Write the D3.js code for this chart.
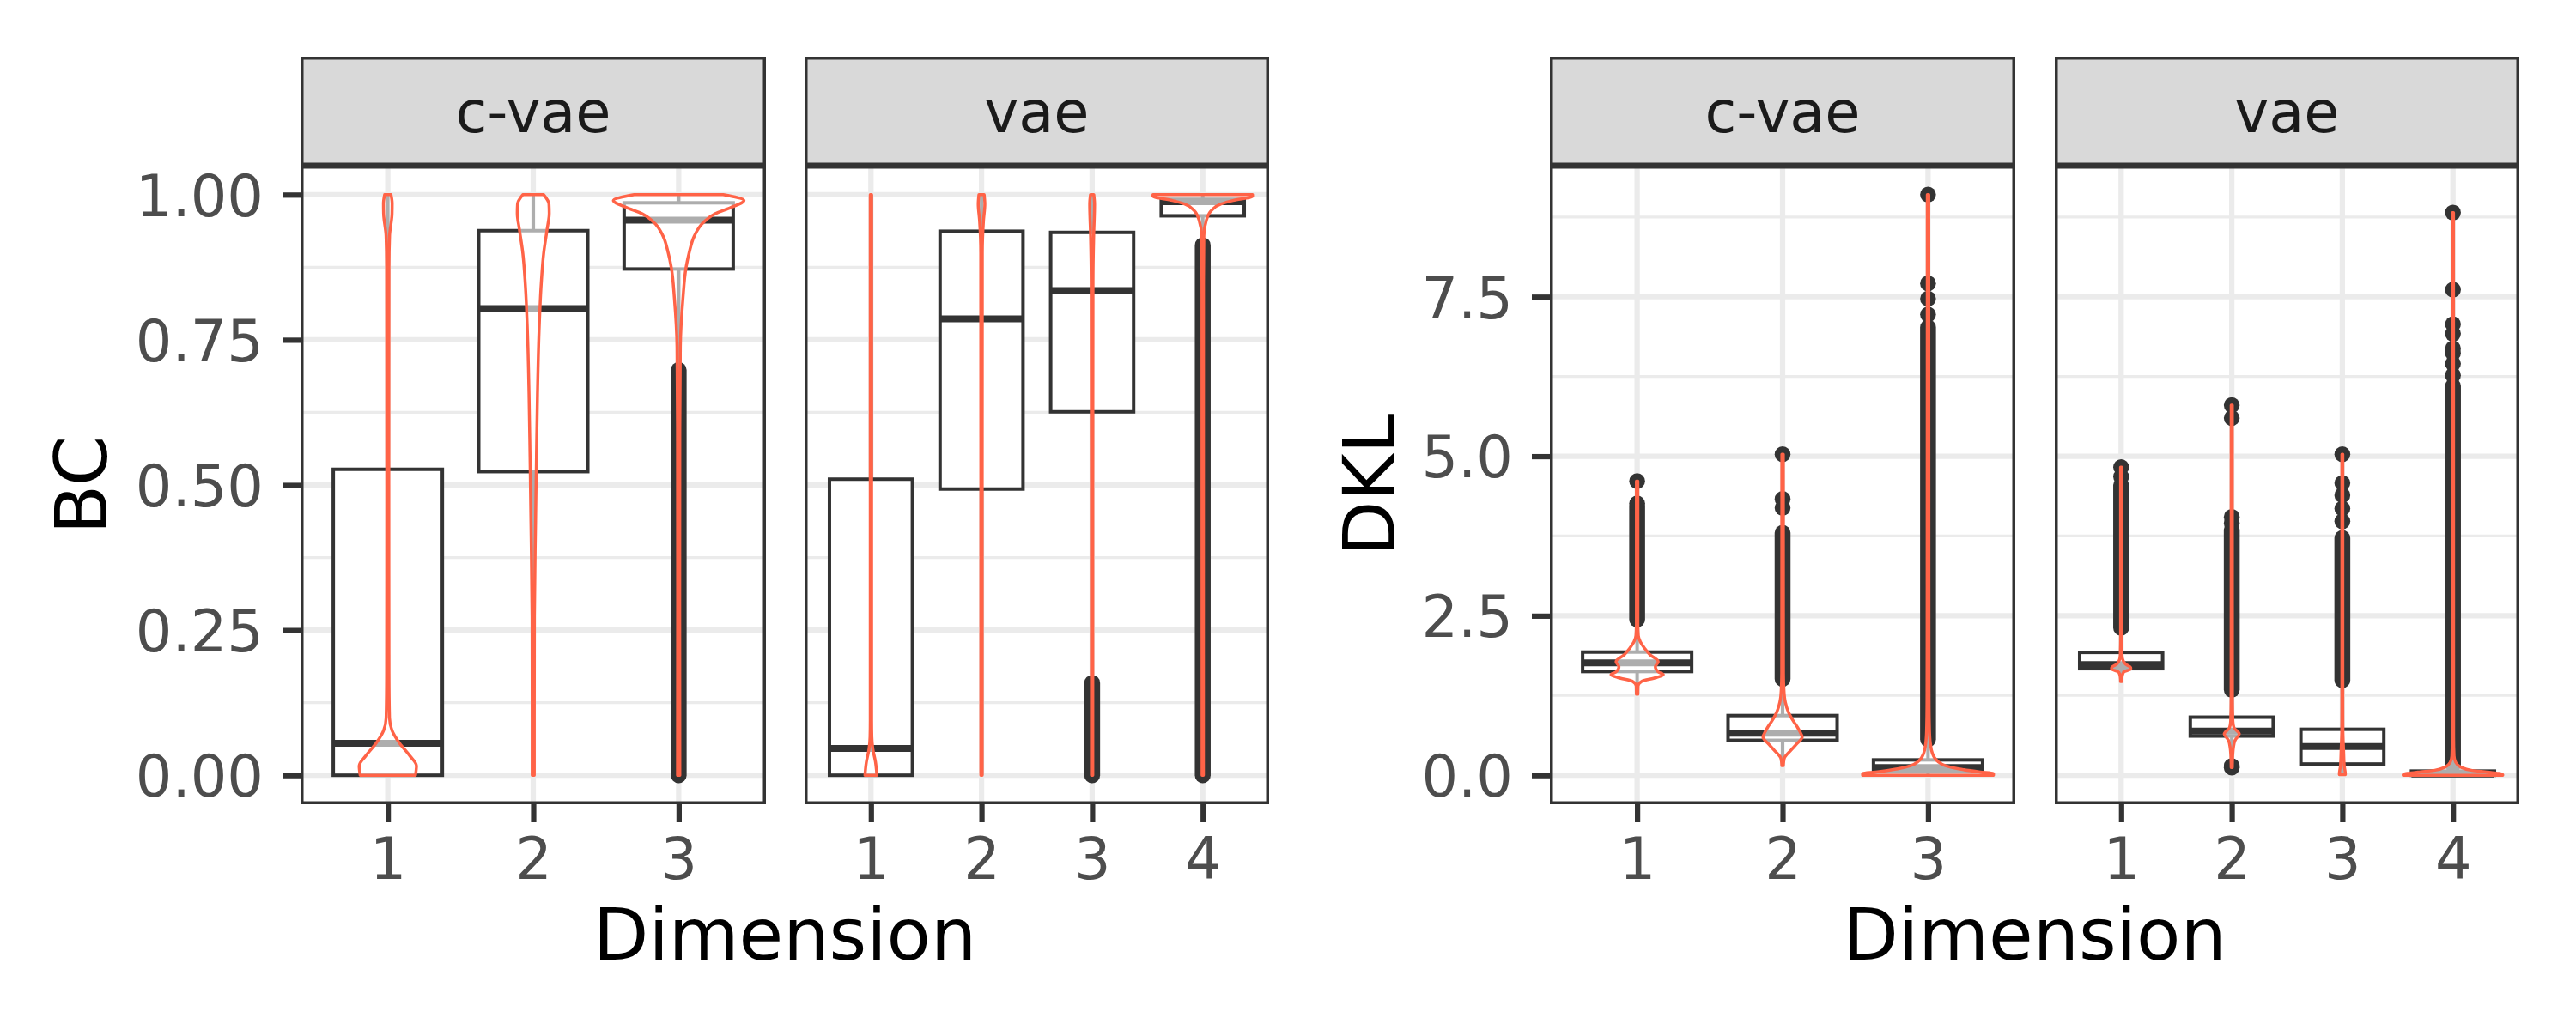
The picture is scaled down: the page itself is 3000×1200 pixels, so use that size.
<!DOCTYPE html>
<html><head><meta charset="utf-8">
<script src="https://cdn.jsdelivr.net/npm/d3@7"></script>
<style>body{margin:0;background:#fff} svg{display:block}</style>
</head><body>
<svg id="c" width="3000" height="1200"></svg>
<script>
// ---------------- DATA ----------------
const models = ["c-vae", "vae"];
const dimsCvae = ["1", "2", "3"];
const dimsVae = ["1", "2", "3", "4"];
const xTitle = "Dimension";

const bcTicks = [0, 0.25, 0.5, 0.75, 1.0];
const bcTickLabels = ["0.00", "0.25", "0.50", "0.75", "1.00"];
const bcMinor = [0.125, 0.375, 0.625, 0.875];
const dklTicks = [0, 2.5, 5, 7.5];
const dklTickLabels = ["0.0", "2.5", "5.0", "7.5"];
const dklMinor = [1.25, 3.75, 6.25, 8.75];

// box stats per dimension: [lower whisker, Q1, median, Q3, upper whisker]
const bcCvaeBox = [
  [0, 0, 0.055, 0.527, 1.0],
  [0, 0.523, 0.804, 0.938, 1.0],
  [0.705, 0.872, 0.956, 0.986, 1.0]
];
const bcVaeBox = [
  [0, 0, 0.046, 0.510, 1.0],
  [0, 0.493, 0.786, 0.937, 1.0],
  [0.165, 0.626, 0.835, 0.935, 1.0],
  [0.925, 0.9636, 0.988, 0.992, 1.0]
];
const dklCvaeBox = [
  [1.27, 1.626, 1.76, 1.93, 2.42],
  [0.149, 0.547, 0.657, 0.935, 1.50],
  [0.0, 0.05, 0.12, 0.24, 0.53]
];
const dklVaeBox = [
  [1.47, 1.67, 1.735, 1.925, 2.30],
  [0.17, 0.614, 0.692, 0.91, 1.33],
  [0.01, 0.175, 0.449, 0.72, 1.47],
  [0.0, 0.0, 0.02, 0.065, 0.15]
];

// dense outlier stretches [from, to] (overlapping points) and single outliers
const bcCvaeOutlierRuns = [[], [], [[0, 0.698]]];
const bcCvaeOutlierPts = [[], [], []];
const bcVaeOutlierRuns = [[], [], [[0, 0.159]], [[0, 0.913]]];
const bcVaeOutlierPts = [[], [], [], []];
const dklCvaeOutlierRuns = [[[2.44, 4.22]], [[1.51, 3.8]], [[0.56, 7.02]]];
const dklCvaeOutlierPts = [[4.26, 4.61], [4.19, 4.33, 5.03], [7.22, 7.47, 7.71, 9.1]];
const dklVaeOutlierRuns = [[[2.31, 4.55]], [[1.34, 3.85]], [[1.49, 3.72]], [[0.16, 6.1]]];
const dklVaeOutlierPts = [[4.68, 4.83], [0.12, 0.145, 3.95, 4.05, 5.60, 5.80],
  [3.98, 4.18, 4.39, 4.58, 5.03], [6.27, 6.45, 6.62, 6.69, 6.92, 7.07, 7.61, 8.82]];

// violin profiles: [value, half width in category units]
const bcCvaeViolin = [
  [[0, 0.19], [0.016, 0.197], [0.033, 0.153], [0.055, 0.081], [0.077, 0.029], [0.099, 0.0115], [0.175, 0.008], [0.5, 0.007], [0.875, 0.008], [0.929, 0.012], [0.967, 0.029], [0.985, 0.03], [1.0, 0.022]],
  [[0, 0.007], [0.1, 0.007], [0.274, 0.008], [0.438, 0.016], [0.547, 0.022], [0.656, 0.029], [0.765, 0.04], [0.847, 0.055], [0.9, 0.072], [0.94, 0.095], [0.968, 0.11], [0.984, 0.108], [1.0, 0.072]],
  [[0, 0.008], [0.3, 0.007], [0.6, 0.008], [0.738, 0.0115], [0.82, 0.029], [0.875, 0.051], [0.9, 0.072], [0.929, 0.108], [0.951, 0.165], [0.967, 0.25], [0.978, 0.36], [0.99, 0.449], [1.0, 0.306]]
];
const bcVaeViolin = [
  [[0, 0.054], [0.023, 0.041], [0.045, 0.0175], [0.066, 0.008], [0.094, 0.006], [0.5, 0.006], [0.9, 0.006], [1.0, 0.006]],
  [[0, 0.006], [0.5, 0.006], [0.9, 0.007], [0.956, 0.018], [0.984, 0.03], [1.0, 0.024]],
  [[0, 0.006], [0.5, 0.006], [0.85, 0.008], [0.929, 0.014], [0.984, 0.022], [1.0, 0.015]],
  [[0, 0.006], [0.85, 0.007], [0.929, 0.01], [0.956, 0.033], [0.973, 0.08], [0.984, 0.165], [0.99, 0.274], [0.997, 0.45], [1.0, 0.45]]
];
const dklCvaeViolin = [
  [[1.269, 0.005], [1.40, 0.006], [1.47, 0.03], [1.53, 0.13], [1.575, 0.18], [1.62, 0.145], [1.70, 0.125], [1.78, 0.145], [1.89, 0.088], [1.99, 0.051], [2.09, 0.022], [2.19, 0.008], [2.35, 0.005], [4.61, 0.005]],
  [[0.149, 0.005], [0.22, 0.008], [0.274, 0.013], [0.398, 0.06], [0.497, 0.10], [0.6, 0.135], [0.647, 0.127], [0.746, 0.104], [0.845, 0.075], [0.995, 0.039], [1.144, 0.019], [1.343, 0.009], [1.6, 0.006], [5.03, 0.005]],
  [[0, 0.45], [0.025, 0.45], [0.05, 0.36], [0.10, 0.21], [0.149, 0.12], [0.22, 0.066], [0.35, 0.029], [0.5, 0.016], [0.7, 0.01], [1.2, 0.007], [3, 0.006], [9.1, 0.005]]
];
const dklVaeViolin = [
  [[1.468, 0.005], [1.542, 0.008], [1.617, 0.022], [1.667, 0.087], [1.69, 0.085], [1.741, 0.039], [1.815, 0.014], [1.89, 0.008], [2.2, 0.005], [4.83, 0.005]],
  [[0.12, 0.005], [0.3, 0.008], [0.449, 0.016], [0.547, 0.03], [0.647, 0.068], [0.746, 0.02], [0.845, 0.01], [1.2, 0.006], [5.8, 0.005]],
  [[0.01, 0.027], [0.025, 0.027], [0.15, 0.017], [0.4, 0.011], [0.7, 0.005], [1.09, 0.004], [5.03, 0.004]],
  [[0, 0.45], [0.01, 0.45], [0.05, 0.317], [0.075, 0.173], [0.126, 0.072], [0.2, 0.025], [0.3, 0.01], [0.6, 0.006], [8.82, 0.005]]
];

// ---------------- DRAWING ----------------
const FONT = "'DejaVu Sans', 'Liberation Sans', sans-serif";
const TOP = 193, BOTTOM = 937, STRIP_TOP = 66;
const GRID = "#ebebeb", DARK = "#333333", VIOLIN = "#ff6347";
const AXIS_FS = 67, TITLE_FS = 84;

const svg = d3.select("#c");
svg.append("rect").attr("width", 3000).attr("height", 1200).attr("fill", "#fff");
const defs = svg.append("defs");
let clipId = 0;

function drawChart(cfg) {
  const vals = [];
  cfg.panels.forEach(p => {
    p.box.forEach(b => vals.push(b[0], b[4]));
    p.runs.forEach(rs => rs.forEach(r => vals.push(r[0], r[1])));
    p.pts.forEach(ps => ps.forEach(v => vals.push(v)));
  });
  const ext = d3.extent(vals);
  const pad = (ext[1] - ext[0]) * 0.05;
  const y = d3.scaleLinear().domain([ext[0] - pad, ext[1] + pad]).range([BOTTOM, TOP]);

  cfg.panels.forEach((p, pi) => {
    const x = d3.scalePoint().domain(p.dims).range([p.x0, p.x1]).padding(0.6);
    const step = x.step();
    const id = "clip" + (clipId++);
    defs.append("clipPath").attr("id", id).append("rect")
      .attr("x", p.x0).attr("y", TOP).attr("width", p.x1 - p.x0).attr("height", BOTTOM - TOP);
    const g = svg.append("g").attr("clip-path", `url(#${id})`);
    g.append("rect").attr("x", p.x0).attr("y", TOP).attr("width", p.x1 - p.x0).attr("height", BOTTOM - TOP).attr("fill", "#fff");

    // grid
    g.selectAll(".minor").data(cfg.minor).join("line")
      .attr("x1", p.x0).attr("x2", p.x1).attr("y1", d => y(d)).attr("y2", d => y(d))
      .attr("stroke", GRID).attr("stroke-width", 3.2);
    g.selectAll(".major").data(cfg.ticks).join("line")
      .attr("x1", p.x0).attr("x2", p.x1).attr("y1", d => y(d)).attr("y2", d => y(d))
      .attr("stroke", GRID).attr("stroke-width", 6.2);
    g.selectAll(".vmajor").data(p.dims).join("line")
      .attr("x1", d => x(d)).attr("x2", d => x(d)).attr("y1", TOP).attr("y2", BOTTOM)
      .attr("stroke", GRID).attr("stroke-width", 6.2);

    // boxplots
    const hb = 0.375 * step;
    p.dims.forEach((d, i) => {
      const cx = x(d), b = p.box[i];
      const bg = g.append("g");
      bg.append("line").attr("x1", cx).attr("x2", cx).attr("y1", y(b[0])).attr("y2", y(b[1]))
        .attr("stroke", DARK).attr("stroke-width", 4);
      bg.append("line").attr("x1", cx).attr("x2", cx).attr("y1", y(b[3])).attr("y2", y(b[4]))
        .attr("stroke", DARK).attr("stroke-width", 4);
      bg.append("rect").attr("x", cx - hb).attr("width", 2 * hb)
        .attr("y", y(b[3])).attr("height", Math.max(0.01, y(b[1]) - y(b[3])))
        .attr("fill", "#fff").attr("stroke", DARK).attr("stroke-width", 4);
      bg.append("line").attr("x1", cx - hb).attr("x2", cx + hb).attr("y1", y(b[2])).attr("y2", y(b[2]))
        .attr("stroke", DARK).attr("stroke-width", 8);
      bg.selectAll(".run").data(p.runs[i]).join("line")
        .attr("x1", cx).attr("x2", cx).attr("y1", r => y(r[0])).attr("y2", r => y(r[1]))
        .attr("stroke", DARK).attr("stroke-width", 18.5).attr("stroke-linecap", "round");
      bg.selectAll(".pt").data(p.pts[i]).join("circle")
        .attr("cx", cx).attr("cy", v => y(v)).attr("r", 9.25).attr("fill", DARK);
    });

    // violins
    p.dims.forEach((d, i) => {
      const cx = x(d);
      const area = d3.area().curve(d3.curveMonotoneY)
        .y(q => y(q[0])).x0(q => cx - q[1] * step).x1(q => cx + q[1] * step);
      g.append("path").attr("d", area(p.violin[i]))
        .attr("fill", "#fff").attr("fill-opacity", 0.6)
        .attr("stroke", VIOLIN).attr("stroke-width", 3.5).attr("stroke-linejoin", "round");
    });

    // panel border (inner half visible, as clipped)
    svg.append("rect").attr("x", p.x0 + 1.75).attr("y", TOP + 1.75)
      .attr("width", p.x1 - p.x0 - 3.5).attr("height", BOTTOM - TOP - 3.5)
      .attr("fill", "none").attr("stroke", DARK).attr("stroke-width", 3.5);

    // strip
    svg.append("rect").attr("x", p.x0 + 1.75).attr("y", STRIP_TOP + 1.75)
      .attr("width", p.x1 - p.x0 - 3.5).attr("height", TOP - STRIP_TOP - 3.5)
      .attr("fill", "#d9d9d9").attr("stroke", DARK).attr("stroke-width", 3.5);
    svg.append("text").attr("x", (p.x0 + p.x1) / 2).attr("y", 153.8)
      .attr("text-anchor", "middle").attr("font-family", FONT).attr("font-size", AXIS_FS)
      .attr("fill", "#1a1a1a").text(p.model);

    // x axis
    const xa = svg.append("g").attr("transform", `translate(0,${BOTTOM})`)
      .call(d3.axisBottom(x).tickSize(21).tickPadding(18.5));
    xa.select(".domain").remove();
    xa.attr("font-family", FONT).attr("font-size", AXIS_FS);
    xa.selectAll("line").attr("stroke", DARK).attr("stroke-width", 6.2);
    xa.selectAll("text").attr("fill", "#4d4d4d");

    // y axis on first panel
    if (pi === 0) {
      const ya = svg.append("g").attr("transform", `translate(${p.x0},0)`)
        .call(d3.axisLeft(y).tickValues(cfg.ticks).tickFormat((v, k) => cfg.tickLabels[k]).tickSize(21).tickPadding(22));
      ya.select(".domain").remove();
      ya.attr("font-family", FONT).attr("font-size", AXIS_FS);
      ya.selectAll("line").attr("stroke", DARK).attr("stroke-width", 6.2);
      ya.selectAll("text").attr("fill", "#4d4d4d").attr("dy", "0.364em");
    }
  });

  const first = cfg.panels[0], last = cfg.panels[cfg.panels.length - 1];
  svg.append("text").attr("x", (first.x0 + last.x1) / 2).attr("y", 1118)
    .attr("text-anchor", "middle").attr("font-family", FONT).attr("font-size", TITLE_FS)
    .attr("fill", "#000").text(xTitle);
  const cy = (TOP + BOTTOM) / 2;
  svg.append("text").attr("transform", `translate(${cfg.yTitleX},${cy}) rotate(-90)`)
    .attr("text-anchor", "middle").attr("font-family", FONT).attr("font-size", TITLE_FS)
    .attr("fill", "#000").text(cfg.metric);
}

drawChart({
  metric: "BC", ticks: bcTicks, tickLabels: bcTickLabels, minor: bcMinor, yTitleX: 124,
  panels: [
    { model: models[0], dims: dimsCvae, box: bcCvaeBox, runs: bcCvaeOutlierRuns, pts: bcCvaeOutlierPts, violin: bcCvaeViolin, x0: 350, x1: 892 },
    { model: models[1], dims: dimsVae, box: bcVaeBox, runs: bcVaeOutlierRuns, pts: bcVaeOutlierPts, violin: bcVaeViolin, x0: 937, x1: 1478 }
  ]
});
drawChart({
  metric: "DKL", ticks: dklTicks, tickLabels: dklTickLabels, minor: dklMinor, yTitleX: 1624,
  panels: [
    { model: models[0], dims: dimsCvae, box: dklCvaeBox, runs: dklCvaeOutlierRuns, pts: dklCvaeOutlierPts, violin: dklCvaeViolin, x0: 1805, x1: 2347 },
    { model: models[1], dims: dimsVae, box: dklVaeBox, runs: dklVaeOutlierRuns, pts: dklVaeOutlierPts, violin: dklVaeViolin, x0: 2393, x1: 2934 }
  ]
});
</script>
</body></html>
